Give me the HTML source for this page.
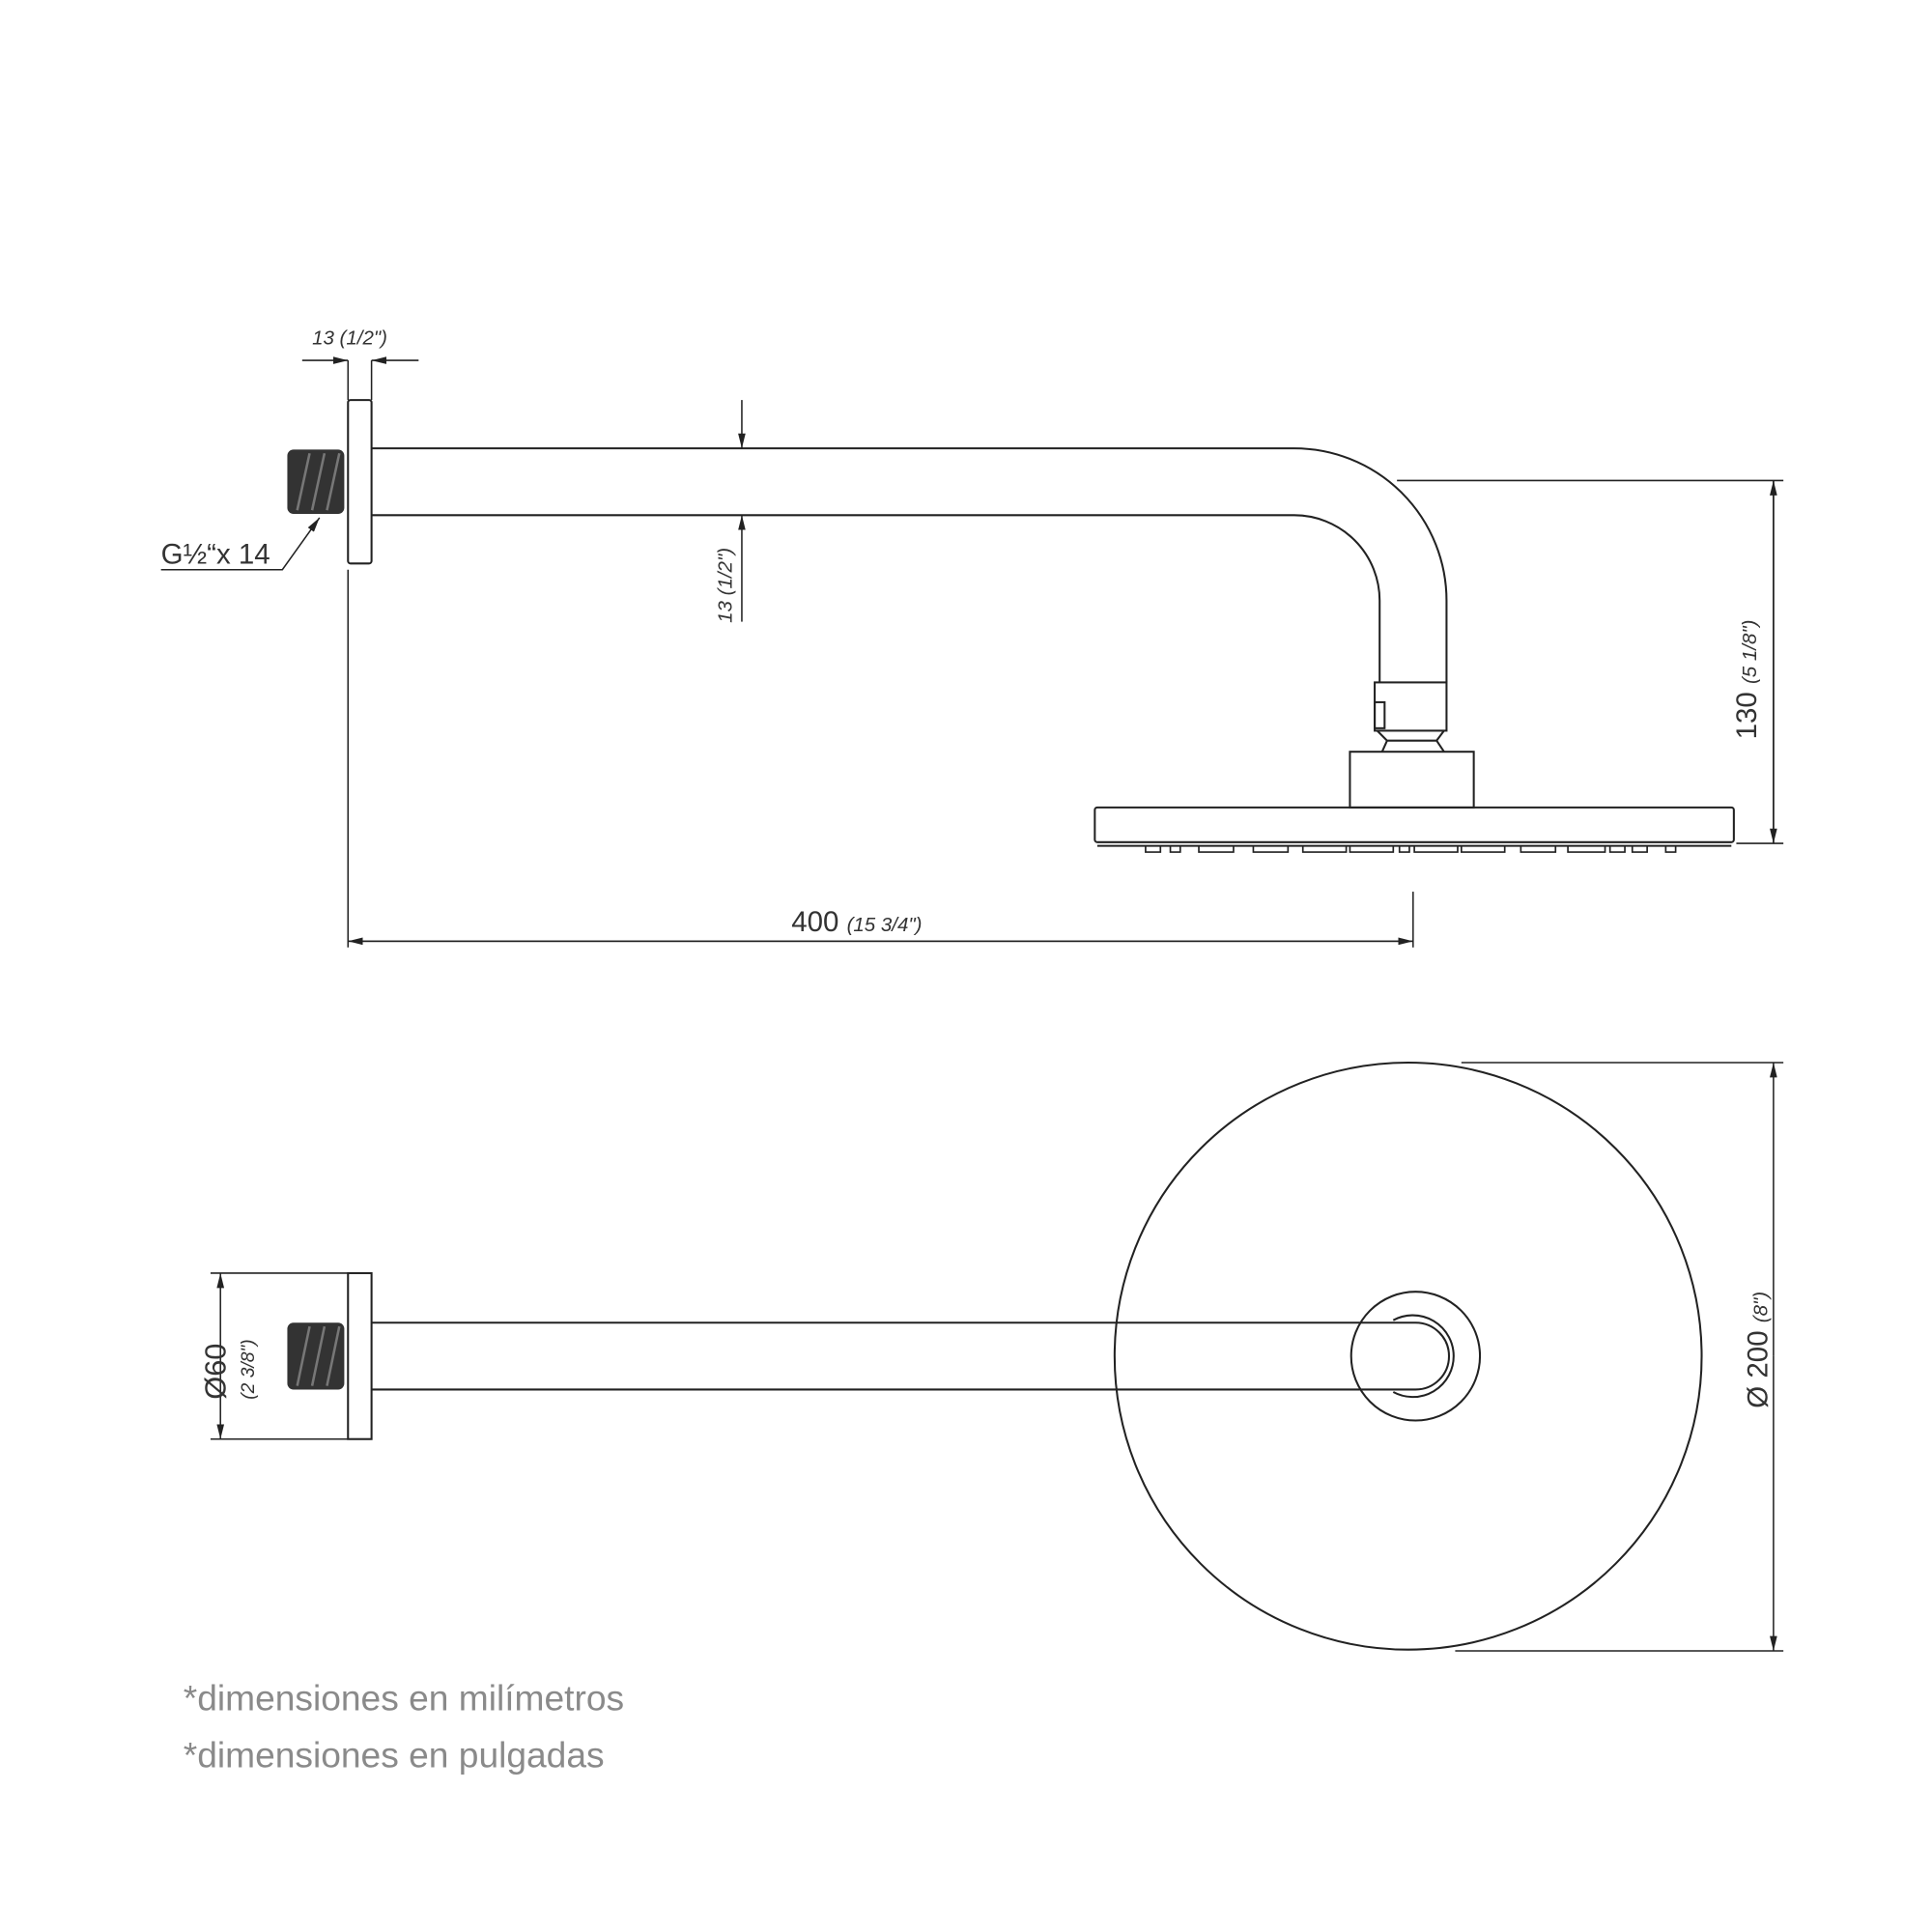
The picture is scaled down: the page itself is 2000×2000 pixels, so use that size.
<!DOCTYPE html>
<html><head><meta charset="utf-8"><style>html,body{margin:0;padding:0;background:#fff}svg{display:block}</style></head>
<body>
<svg width="2000" height="2000" viewBox="0 0 1560 1560" xmlns="http://www.w3.org/2000/svg" font-family="Liberation Sans, sans-serif">
<defs>
<marker id="a" markerWidth="12" markerHeight="6" refX="12" refY="3" orient="auto" markerUnits="userSpaceOnUse"><path d="M0,0 L12,3 L0,6 z" fill="#222"/></marker>
</defs>
<g fill="none" stroke="#222" stroke-width="1.6">
<rect x="281" y="323" width="19" height="132" rx="2"/>
<path d="M300,362 H1045 A123,123 0 0 1 1168,485 V551"/>
<path d="M300,416 H1045 A69,69 0 0 1 1114,485 V551"/>
<rect x="1110" y="551" width="58" height="39"/>
<rect x="1110" y="567" width="8" height="21"/>
<path d="M1112,590 L1120,598 H1160 L1166,590 M1120,598 L1116,607 M1160,598 L1166,607"/>
<rect x="1090" y="607" width="100" height="45"/>
<rect x="884" y="652" width="516" height="28" rx="2"/>
<line x1="886" y1="683" x2="1398" y2="683"/>
<g stroke-width="1.3">
<path d="M925,683 v5 h12 v-5 M945,683 v5 h8 v-5 M968,683 v5 h28 v-5 M1012,683 v5 h28 v-5 M1052,683 v5 h35 v-5 M1090,683 v5 h35 v-5 M1130,683 v5 h8 v-5 M1142,683 v5 h35 v-5 M1180,683 v5 h35 v-5 M1228,683 v5 h28 v-5 M1266,683 v5 h30 v-5 M1300,683 v5 h12 v-5 M1318,683 v5 h12 v-5 M1345,683 v5 h8 v-5"/>
</g>
<line x1="281" y1="291" x2="281" y2="323" stroke-width="1.2"/>
<line x1="300" y1="291" x2="300" y2="323" stroke-width="1.2"/>
<line x1="244" y1="291" x2="281" y2="291" stroke-width="1.2" marker-end="url(#a)"/>
<line x1="338" y1="291" x2="300" y2="291" stroke-width="1.2" marker-end="url(#a)"/>
<line x1="599" y1="323" x2="599" y2="362" stroke-width="1.2" marker-end="url(#a)"/>
<line x1="599" y1="502" x2="599" y2="416" stroke-width="1.2" marker-end="url(#a)"/>
<line x1="281" y1="460" x2="281" y2="765" stroke-width="1.2"/>
<line x1="1141" y1="720" x2="1141" y2="765" stroke-width="1.2"/>
<line x1="1141" y1="760" x2="281" y2="760" stroke-width="1.2" marker-end="url(#a)"/>
<line x1="281" y1="760" x2="1141" y2="760" stroke-width="1.2" marker-end="url(#a)"/>
<line x1="1128" y1="388" x2="1440" y2="388" stroke-width="1.2"/>
<line x1="1402" y1="681" x2="1440" y2="681" stroke-width="1.2"/>
<line x1="1432" y1="681" x2="1432" y2="388" stroke-width="1.2" marker-end="url(#a)"/>
<line x1="1432" y1="388" x2="1432" y2="681" stroke-width="1.2" marker-end="url(#a)"/>
<path d="M130,460 H228 L258,418" stroke-width="1.2" marker-end="url(#a)"/>
<rect x="281" y="1028" width="19" height="134"/>
<circle cx="1137" cy="1095" r="237"/>
<circle cx="1143" cy="1095" r="52"/>
<path d="M300,1068 H1143 A27,27 0 0 1 1143,1122 H300"/>
<path d="M1125,1066 A33,33 0 1 1 1125,1124"/>
<line x1="170" y1="1028" x2="281" y2="1028" stroke-width="1.2"/>
<line x1="170" y1="1162" x2="281" y2="1162" stroke-width="1.2"/>
<line x1="178" y1="1095" x2="178" y2="1028" stroke-width="1.2" marker-end="url(#a)"/>
<line x1="178" y1="1095" x2="178" y2="1162" stroke-width="1.2" marker-end="url(#a)"/>
<line x1="1180" y1="858" x2="1440" y2="858" stroke-width="1.2"/>
<line x1="1175" y1="1333" x2="1440" y2="1333" stroke-width="1.2"/>
<line x1="1432" y1="1095" x2="1432" y2="858" stroke-width="1.2" marker-end="url(#a)"/>
<line x1="1432" y1="1095" x2="1432" y2="1333" stroke-width="1.2" marker-end="url(#a)"/>
</g>
<g>
<rect x="232" y="363" width="46" height="52" rx="5" fill="#333"/>
<path d="M240,412 L250,366 M252,412 L262,366 M264,412 L274,366" stroke="#777" stroke-width="2"/>
<rect x="232" y="1068" width="46" height="54" rx="5" fill="#333"/>
<path d="M240,1119 L250,1071 M252,1119 L262,1071 M264,1119 L274,1071" stroke="#777" stroke-width="2"/>
</g>
<g fill="#333">
<text x="252" y="278" font-size="16" font-style="italic">13 (1/2")</text>
<text x="130" y="455" font-size="23">G½“x 14</text>
<text transform="translate(591,503) rotate(-90)" font-size="16" font-style="italic">13 (1/2")</text>
<text x="639" y="752" font-size="23">400 <tspan font-size="16" font-style="italic">(15 3/4")</tspan></text>
<text transform="translate(1418,597) rotate(-90)" font-size="23">130 <tspan font-size="16" font-style="italic">(5 1/8")</tspan></text>
<text transform="translate(1427,1137) rotate(-90)" font-size="23">Ø 200 <tspan font-size="16" font-style="italic">(8")</tspan></text>
<text transform="translate(182,1130) rotate(-90)" font-size="24">Ø60</text>
<text transform="translate(205,1130) rotate(-90)" font-size="15" font-style="italic">(2 3/8")</text>
</g>
<g fill="#8a8a8a" font-size="29">
<text x="148" y="1381">*dimensiones en milímetros</text>
<text x="148" y="1427">*dimensiones en pulgadas</text>
</g>
</svg>
</body></html>
